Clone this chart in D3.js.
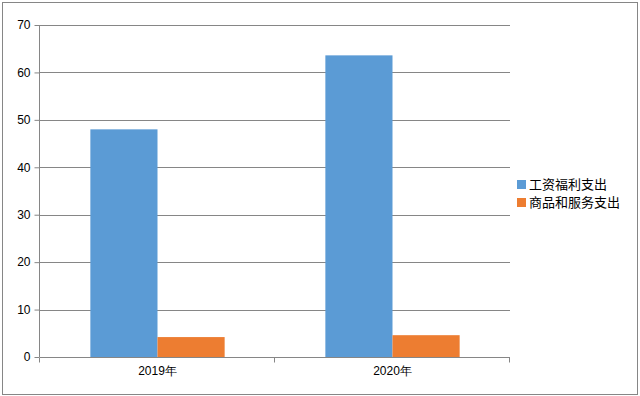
<!DOCTYPE html>
<html>
<head>
<meta charset="utf-8">
<script src="https://cdn.jsdelivr.net/npm/d3@7"></script>
<style>
  body { margin: 0; background: #fff; }
  svg { display: block; }
  .axis text { font-family: "Liberation Sans", "DejaVu Sans", sans-serif; font-size: 12px; fill: #000; }
  .legend text { font-family: "Noto Sans CJK SC", sans-serif; font-size: 13px; fill: #000; }
</style>
</head>
<body>
<div id="chart"></div>
<script>
const categories = ['2019年', '2020年'];
const seriesNames = ['工资福利支出', '商品和服务支出'];
const wages = [48, 63.6];
const goods = [4.2, 4.6];
const yTicks = [0, 10, 20, 30, 40, 50, 60, 70];
const colors = ['#5b9bd5', '#ed7d31'];

const width = 640, height = 396;
const margin = { top: 25, right: 130, bottom: 39, left: 40 };

const data = categories.map((c, i) => ({ cat: c, values: [wages[i], goods[i]] }));

const svg = d3.select('#chart').append('svg')
    .attr('width', width)
    .attr('height', height);

// outer frame
svg.append('rect')
    .attr('x', 2.5).attr('y', 2.5)
    .attr('width', width - 5).attr('height', height - 4)
    .attr('fill', '#fff')
    .attr('stroke', '#868686');

const plotW = width - margin.left - margin.right;
const plotH = height - margin.top - margin.bottom;

const plot = svg.append('g')
    .attr('transform', `translate(${margin.left},${margin.top})`);

const x0 = d3.scaleBand().domain(categories).range([0, plotW]).padding(0);
const x1 = d3.scaleBand().domain(seriesNames).range([0, x0.bandwidth()])
    .paddingInner(0).paddingOuter(0.75);
const y = d3.scaleLinear().domain([0, 70]).range([plotH, 0]);

// gridlines
plot.append('g')
    .selectAll('line')
    .data(yTicks.filter(t => t > 0))
    .enter().append('line')
    .attr('x1', 0).attr('x2', plotW)
    .attr('y1', d => Math.round(y(d)) + 0.5)
    .attr('y2', d => Math.round(y(d)) + 0.5)
    .attr('stroke', '#868686');

// bars
const groups = plot.selectAll('.grp')
    .data(data)
    .enter().append('g')
    .attr('transform', d => `translate(${x0(d.cat)},0)`);

groups.selectAll('rect')
    .data(d => d.values.map((v, i) => ({ key: seriesNames[i], v, i })))
    .enter().append('rect')
    .attr('x', d => x1(d.key))
    .attr('width', x1.bandwidth())
    .attr('y', d => y(d.v))
    .attr('height', d => plotH - y(d.v))
    .attr('fill', d => colors[d.i]);

// y axis
const yAxis = d3.axisLeft(y).tickValues(yTicks).tickSize(5).tickPadding(4);
plot.append('g')
    .attr('class', 'axis')
    .attr('transform', 'translate(-0.5,0)')
    .call(yAxis)
    .call(g => g.selectAll('line, path').attr('stroke', '#868686'))
    .call(g => g.select('.domain').attr('d', `M0,0V${plotH}`));

// x axis
const xAxis = d3.axisBottom(x0).tickSize(0).tickPadding(9);
const xg = plot.append('g')
    .attr('class', 'axis')
    .attr('transform', `translate(0,${plotH + 0.5})`)
    .call(xAxis)
    .call(g => g.select('.domain').attr('stroke', '#868686').attr('d', `M0,0H${plotW}`));
xg.selectAll('.sep')
    .data([0, plotW / 2, plotW])
    .enter().append('line')
    .attr('x1', d => Math.round(d) - 0.5).attr('x2', d => Math.round(d) - 0.5)
    .attr('y1', 0).attr('y2', 5)
    .attr('stroke', '#868686');

// legend
const legend = svg.append('g')
    .attr('class', 'legend')
    .attr('transform', 'translate(517,180)');
const items = legend.selectAll('g')
    .data(seriesNames)
    .enter().append('g')
    .attr('transform', (d, i) => `translate(0,${i * 18})`);
items.append('rect')
    .attr('width', 9).attr('height', 9)
    .attr('fill', (d, i) => colors[i]);
items.append('text')
    .attr('x', 12).attr('y', 4.5)
    .attr('dy', '0.35em')
    .text(d => d);
</script>
</body>
</html>
